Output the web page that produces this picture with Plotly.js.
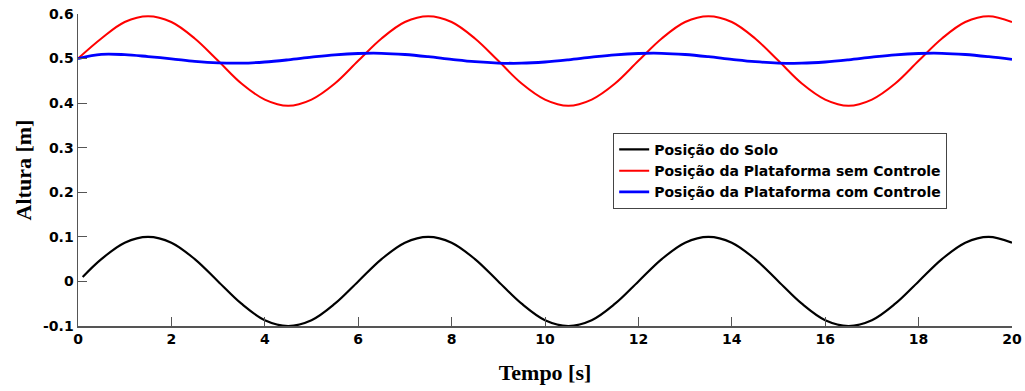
<!DOCTYPE html>
<html>
<head>
<meta charset="utf-8">
<script src="https://cdn.plot.ly/plotly-3.0.1.min.js"></script>
<style>html,body{margin:0;padding:0;background:#fff;}#chart{width:1025px;height:391px;}</style>
</head>
<body>
<div id="chart"></div>
<script>
// Time samples (s)
const time = [0,0.5,1,1.5,2,2.5,3,3.5,4,4.5,5,5.5,6,6.5,7,7.5,8,8.5,9,9.5,10,10.5,11,11.5,12,12.5,13,13.5,14,14.5,15,15.5,16,16.5,17,17.5,18,18.5,19,19.5,20];
const groundTime = [0.1,0.5,1,1.5,2,2.5,3,3.5,4,4.5,5,5.5,6,6.5,7,7.5,8,8.5,9,9.5,10,10.5,11,11.5,12,12.5,13,13.5,14,14.5,15,15.5,16,16.5,17,17.5,18,18.5,19,19.5,20];

// Posição do Solo (m)
const ground = [0.010,0.050,0.087,0.100,0.087,0.050,0.000,-0.050,-0.087,-0.100,-0.087,-0.050,0.000,
                0.050,0.087,0.100,0.087,0.050,0.000,-0.050,-0.087,-0.100,-0.087,-0.050,0.000,
                0.050,0.087,0.100,0.087,0.050,0.000,-0.050,-0.087,-0.100,-0.087,-0.050,0.000,
                0.050,0.087,0.100,0.087];

// Posição da Plataforma sem Controle (m)
const semControle = [0.500,0.545,0.582,0.595,0.582,0.545,0.495,0.444,0.408,0.394,0.408,0.444,0.495,
                     0.545,0.582,0.595,0.582,0.545,0.495,0.444,0.408,0.394,0.408,0.444,0.495,
                     0.545,0.582,0.595,0.582,0.545,0.495,0.444,0.408,0.394,0.408,0.444,0.495,
                     0.545,0.582,0.595,0.582];

// Posição da Plataforma com Controle (m)
const comControle = [0.500,0.5095,0.5088,0.5045,0.4995,0.4938,0.4903,0.4897,0.4923,0.4972,0.5031,0.5083,0.5114,
                     0.5118,0.5091,0.5042,0.4983,0.4931,0.4900,0.4896,0.4923,0.4972,0.5031,0.5083,0.5114,
                     0.5118,0.5091,0.5042,0.4983,0.4931,0.4900,0.4896,0.4923,0.4972,0.5031,0.5083,0.5114,
                     0.5118,0.5091,0.5042,0.4983];

const seriesNames = ['Posição do Solo','Posição da Plataforma sem Controle','Posição da Plataforma com Controle'];

const xTickVals = [0,2,4,6,8,10,12,14,16,18,20];
const xTickText = ['0','2','4','6','8','10','12','14','16','18','20'];
const yTickVals = [-0.1,0,0.1,0.2,0.3,0.4,0.5,0.6];
const yTickText = ['-0.1','0','0.1','0.2','0.3','0.4','0.5','0.6'];

const traces = [
  {x: groundTime, y: ground, name: seriesNames[0], mode: 'lines', line: {color: '#000000', width: 2.2, shape: 'spline'}},
  {x: time, y: semControle, name: seriesNames[1], mode: 'lines', line: {color: '#ff0000', width: 2, shape: 'spline'}},
  {x: time, y: comControle, name: seriesNames[2], mode: 'lines', line: {color: '#0000ff', width: 2.8, shape: 'spline'}}
];

const tickFont = {family: 'DejaVu Sans, Verdana, sans-serif', size: 14, color: '#000', weight: 'bold'};
const titleFont = {family: 'Liberation Serif, Times New Roman, serif', size: 22, color: '#000', weight: 'bold'};

const layout = {
  width: 1025, height: 391,
  margin: {l: 78, r: 13, t: 14, b: 65},
  paper_bgcolor: '#fff', plot_bgcolor: '#fff',
  showlegend: true,
  legend: {
    x: 0.573, y: 0.619, xanchor: 'left', yanchor: 'top',
    bgcolor: '#fff', bordercolor: '#444', borderwidth: 1,
    font: {family: 'DejaVu Sans, Verdana, sans-serif', size: 14, color: '#000', weight: 'bold'},
    tracegroupgap: 0, itemwidth: 30
  },
  xaxis: {
    range: [0, 20], tickvals: xTickVals, ticktext: xTickText,
    ticks: 'inside', ticklen: 9, tickcolor: '#555', tickwidth: 1,
    showline: true, linecolor: '#555', linewidth: 1.5, mirror: false,
    showgrid: false, zeroline: false, tickfont: tickFont,
    title: {text: 'Tempo [s]', font: titleFont, standoff: 18}
  },
  yaxis: {
    range: [-0.1, 0.6], tickvals: yTickVals, ticktext: yTickText,
    ticks: 'inside', ticklen: 9, tickcolor: '#555', tickwidth: 1,
    showline: true, linecolor: '#555', linewidth: 1.5, mirror: false,
    showgrid: false, zeroline: false, tickfont: tickFont,
    title: {text: 'Altura [m]', font: titleFont, standoff: 5}
  }
};

Plotly.newPlot('chart', traces, layout, {displayModeBar: false, staticPlot: true});
</script>
</body>
</html>
